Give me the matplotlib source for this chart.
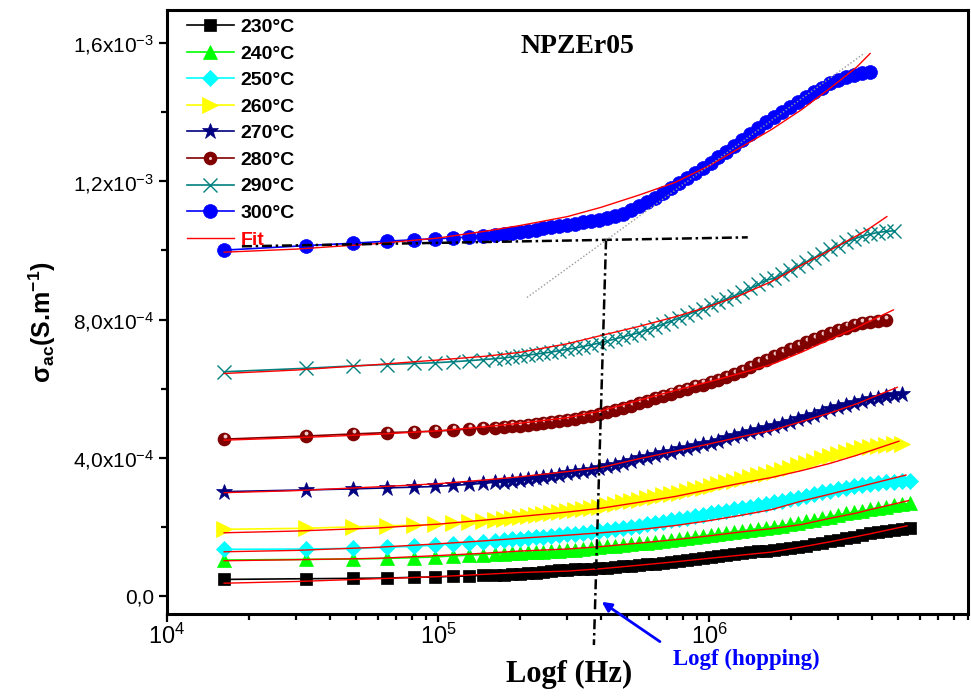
import numpy as np
import matplotlib
matplotlib.use("Agg")
import matplotlib.pyplot as plt
from matplotlib.lines import Line2D
from matplotlib.ticker import FixedLocator, LogLocator, MultipleLocator, NullFormatter
from matplotlib.legend_handler import HandlerTuple
from matplotlib.transforms import offset_copy

plt.rcParams["mathtext.default"] = "regular"
plt.rcParams["font.family"] = ["Liberation Sans", "DejaVu Sans"]

# measured frequencies (kHz)
freq_khz = [16.25, 32.5, 48.75, 65, 81.25, 97.5, 113.75, 130, 146.25, 162.5,
            175, 187, 200, 214, 229, 245, 262, 280, 300, 321,
            343, 367, 393, 421, 450, 482, 515, 551, 590, 631,
            675, 722, 773, 827, 885, 947, 1013, 1084, 1160, 1241,
            1328, 1421, 1520, 1627, 1741, 1862, 1993, 2132, 2281, 2441,
            2612, 2795, 2990, 3200, 3424, 3663, 3920, 4194, 4488, 4802,
            5138, 5498]

# sigma_ac in 1e-4 S/m
s230 = [0.48, 0.50, 0.51, 0.52, 0.54, 0.55, 0.57, 0.58, 0.60, 0.61,
        0.62, 0.63, 0.64, 0.66, 0.68, 0.70, 0.72, 0.74, 0.75, 0.77,
        0.78, 0.79, 0.80, 0.82, 0.84, 0.86, 0.88, 0.90, 0.92, 0.94,
        0.96, 0.98, 1.00, 1.03, 1.06, 1.09, 1.12, 1.15, 1.18, 1.21,
        1.24, 1.27, 1.29, 1.31, 1.33, 1.35, 1.38, 1.42, 1.46, 1.50,
        1.54, 1.58, 1.63, 1.67, 1.72, 1.77, 1.82, 1.86, 1.89, 1.92,
        1.94, 1.96]
s240 = [1.04, 1.06, 1.07, 1.09, 1.11, 1.13, 1.16, 1.18, 1.20, 1.22,
        1.23, 1.24, 1.25, 1.26, 1.27, 1.28, 1.29, 1.30, 1.32, 1.34,
        1.36, 1.39, 1.42, 1.44, 1.46, 1.48, 1.50, 1.52, 1.54, 1.57,
        1.60, 1.62, 1.65, 1.68, 1.71, 1.74, 1.77, 1.80, 1.83, 1.86,
        1.89, 1.92, 1.95, 1.98, 2.01, 2.04, 2.08, 2.12, 2.16, 2.20,
        2.25, 2.30, 2.35, 2.39, 2.43, 2.47, 2.51, 2.55, 2.59, 2.62,
        2.65, 2.68]
s250 = [1.35, 1.36, 1.38, 1.41, 1.44, 1.47, 1.51, 1.54, 1.57, 1.60,
        1.62, 1.64, 1.66, 1.68, 1.70, 1.72, 1.74, 1.76, 1.78, 1.80,
        1.83, 1.86, 1.89, 1.92, 1.95, 1.98, 2.01, 2.04, 2.07, 2.11,
        2.15, 2.19, 2.23, 2.27, 2.31, 2.35, 2.39, 2.43, 2.47, 2.51,
        2.55, 2.59, 2.63, 2.67, 2.71, 2.75, 2.80, 2.85, 2.90, 2.95,
        3.00, 3.05, 3.10, 3.14, 3.18, 3.22, 3.25, 3.27, 3.29, 3.31,
        3.32, 3.33]
s260 = [1.93, 1.96, 2.00, 2.03, 2.05, 2.07, 2.10, 2.13, 2.17, 2.20,
        2.23, 2.26, 2.29, 2.32, 2.35, 2.38, 2.41, 2.44, 2.47, 2.50,
        2.53, 2.56, 2.59, 2.63, 2.67, 2.71, 2.75, 2.79, 2.83, 2.87,
        2.91, 2.95, 2.99, 3.04, 3.09, 3.14, 3.19, 3.24, 3.29, 3.34,
        3.39, 3.44, 3.49, 3.54, 3.59, 3.65, 3.71, 3.78, 3.85, 3.92,
        3.99, 4.05, 4.11, 4.17, 4.22, 4.27, 4.31, 4.34, 4.37, 4.39,
        4.40]
s270 = [3.02, 3.07, 3.10, 3.13, 3.15, 3.17, 3.20, 3.23, 3.26, 3.29,
        3.31, 3.34, 3.37, 3.39, 3.42, 3.45, 3.48, 3.51, 3.55, 3.59,
        3.62, 3.66, 3.70, 3.75, 3.80, 3.86, 3.92, 3.98, 4.03, 4.08,
        4.13, 4.18, 4.24, 4.29, 4.34, 4.39, 4.44, 4.50, 4.56, 4.62,
        4.68, 4.74, 4.80, 4.86, 4.91, 4.97, 5.04, 5.11, 5.18, 5.25,
        5.33, 5.40, 5.47, 5.53, 5.59, 5.64, 5.69, 5.74, 5.78, 5.81,
        5.84]
s280 = [4.54, 4.63, 4.69, 4.73, 4.75, 4.77, 4.80, 4.83, 4.85, 4.87,
        4.89, 4.91, 4.93, 4.95, 4.97, 5.00, 5.03, 5.06, 5.09, 5.13,
        5.17, 5.21, 5.26, 5.32, 5.38, 5.44, 5.51, 5.58, 5.65, 5.72,
        5.79, 5.86, 5.93, 6.00, 6.07, 6.12, 6.18, 6.25, 6.33, 6.42,
        6.52, 6.62, 6.73, 6.84, 6.94, 7.04, 7.14, 7.24, 7.34, 7.44,
        7.53, 7.62, 7.70, 7.77, 7.84, 7.89, 7.93, 7.96, 7.98]
s290 = [6.49, 6.59, 6.66, 6.70, 6.73, 6.75, 6.78, 6.81, 6.84, 6.87,
        6.89, 6.92, 6.94, 6.97, 7.00, 7.03, 7.06, 7.10, 7.14, 7.18,
        7.22, 7.27, 7.32, 7.38, 7.44, 7.50, 7.56, 7.62, 7.70, 7.78,
        7.86, 7.95, 8.04, 8.13, 8.22, 8.31, 8.41, 8.50, 8.60, 8.69,
        8.79, 8.90, 9.02, 9.14, 9.20, 9.31, 9.43, 9.55, 9.67, 9.79,
        9.91, 10.03, 10.14, 10.24, 10.33, 10.41, 10.47, 10.52, 10.55, 10.57]
s300 = [10.01, 10.14, 10.21, 10.27, 10.31, 10.34, 10.36, 10.39, 10.42, 10.45,
        10.47, 10.50, 10.53, 10.56, 10.60, 10.64, 10.68, 10.71, 10.74, 10.78,
        10.81, 10.85, 10.88, 10.94, 11.00, 11.07, 11.17, 11.28, 11.40, 11.53,
        11.67, 11.81, 11.95, 12.09, 12.23, 12.38, 12.54, 12.70, 12.86, 13.03,
        13.20, 13.37, 13.54, 13.71, 13.85, 14.00, 14.15, 14.31, 14.45, 14.58,
        14.71, 14.84, 14.94, 15.03, 15.09, 15.13, 15.17]

# fitted curves (same units), last point at each fit's own end frequency
fit_khz = [16.25, 30, 60, 100, 150, 200, 300, 400, 550, 750,
           1000, 1300, 1700, 2200, 2800, 3500, 3930]
fit_end_khz = [5380, 5450, 5330, 5020, 4950, 4790, 4530, 3930]
fit230 = [0.37, 0.42, 0.50, 0.56, 0.63, 0.68, 0.72, 0.79, 0.89, 0.99,
          1.09, 1.18, 1.27, 1.42, 1.57, 1.72, 1.80, 2.03]
fit240 = [1.02, 1.05, 1.09, 1.17, 1.24, 1.30, 1.36, 1.43, 1.53, 1.63,
          1.74, 1.85, 1.95, 2.07, 2.25, 2.40, 2.50, 2.76]
fit250 = [1.28, 1.32, 1.41, 1.51, 1.60, 1.67, 1.76, 1.83, 1.92, 2.04,
          2.18, 2.33, 2.50, 2.75, 2.95, 3.14, 3.24, 3.50]
fit260 = [1.83, 1.88, 1.97, 2.08, 2.20, 2.30, 2.43, 2.54, 2.71, 2.88,
          3.08, 3.26, 3.43, 3.63, 3.84, 4.07, 4.20, 4.48]
fit270 = [2.99, 3.05, 3.16, 3.25, 3.36, 3.45, 3.60, 3.72, 3.97, 4.19,
          4.40, 4.60, 4.79, 5.05, 5.30, 5.56, 5.72, 6.04]
fit280 = [4.51, 4.58, 4.68, 4.78, 4.90, 5.00, 5.16, 5.36, 5.66, 5.95,
          6.20, 6.44, 6.70, 7.06, 7.43, 7.76, 7.96, 8.28]
fit290 = [6.44, 6.54, 6.70, 6.83, 6.94, 7.05, 7.30, 7.54, 7.80, 8.08,
          8.38, 8.70, 9.10, 9.58, 10.01, 10.42, 10.65, 10.98]
fit300 = [9.95, 10.04, 10.20, 10.36, 10.56, 10.72, 10.98, 11.25, 11.60, 11.97,
          12.45, 12.97, 13.50, 14.08, 14.70, 15.30, 15.70]

# guide lines used to locate the hopping frequency
plateau_f = [1.89e4, 1.39e6]
plateau_s = [10.12e-4, 10.38e-4]
slope_f = [2.13e5, 3.70e6]
slope_s = [8.64e-4, 15.68e-4]
hop_f = [4.17e5, 3.76e5]
hop_s = [10.32e-4, -1.42e-4]

labels = ["230°C", "240°C", "250°C", "260°C", "270°C", "280°C", "290°C", "300°C"]
colors = ["black", "#00ff00", "#00ffff", "#ffff00", "#000080", "#800000", "#008080", "#0000ff"]
markers = ["s", "^", "D", ">", "*", "o", "x", "o"]
msizes = [8.5, 10.5, 7.8, 11, 12, 9.8, 9.8, 10]

data = [s230, s240, s250, s260, s270, s280, s290, s300]
fits = [fit230, fit240, fit250, fit260, fit270, fit280, fit290, fit300]

fig = plt.figure(figsize=(9.71, 6.99), dpi=100)
ax = fig.add_axes([0.172, 0.1216, 0.8249, 0.8641])
ax.set_xscale("log")

hl_tr = offset_copy(ax.transData, fig=fig, x=0.5, y=2.2, units="points")
handles = []
for k, vals in enumerate(data):
    f = np.array(freq_khz[:len(vals)]) * 1e3
    s = np.array(vals) * 1e-4
    col = colors[k]
    z = 3 + k * 0.1
    mew = 1.0 if markers[k] == "x" else 0.5
    if k == 5:
        # shaded spheres: each marker gets its own highlight, drawn in order
        ax.plot(f, s, "-", color=col, lw=1.2, zorder=z - 0.01)
        for i in range(len(f)):
            zi = z + i * 1e-4
            ax.plot(f[i], s[i], "o", ms=msizes[k], color=col, mew=0, zorder=zi)
            ax.plot(f[i], s[i], "o", ms=2.8, color="#f2caca", mew=0,
                    transform=hl_tr, zorder=zi + 5e-5)
        h = (Line2D([], [], color=col, lw=1.2, marker="o", ms=msizes[k], mew=0),
             Line2D([], [], ls="none", marker="o", ms=2.2, color="#f2caca", mew=0))
        handles.append(h)
    else:
        ln, = ax.plot(f, s, color=col, lw=1.2, marker=markers[k], ms=msizes[k],
                      mfc=col, mec=col, mew=mew, zorder=z)
        handles.append(ln)

for k, fv in enumerate(fits):
    ff = np.array(fit_khz[:len(fv) - 1] + [fit_end_khz[k]]) * 1e3
    fit_line, = ax.plot(ff, np.array(fv) * 1e-4, color="red", lw=1.0, zorder=5)

ax.plot(plateau_f, plateau_s, color="black", lw=1.8, dashes=(4, 1.5, 1, 1.5), zorder=6)
ax.plot(hop_f, hop_s, color="black", lw=1.8, dashes=(4, 1.5, 1, 1.5), zorder=6, clip_on=False)
ax.plot(slope_f, slope_s, color="#999999", lw=1.0, ls=(0, (1, 1.5)), zorder=6)

ax.annotate("", xy=(4.02e5, -0.17e-4), xytext=(6.59e5, -1.32e-4),
            arrowprops=dict(arrowstyle="-|>", color="blue", lw=2, mutation_scale=14,
                            shrinkA=0, shrinkB=0),
            annotation_clip=False)
ax.text(1.37e6, -1.84e-4, "Logf (hopping)", color="blue", family="Liberation Serif",
        weight="bold", size=16.5, ha="center", va="center", clip_on=False)

ax.text(0.513, 0.939, "NPZEr05", transform=ax.transAxes, family="Liberation Serif",
        weight="bold", size=20, ha="center", va="center")

ax.set_xlim(1e4, 9.03e6)
ax.set_ylim(-0.521e-4, 16.96e-4)

ax.set_xticks([1e4, 1e5, 1e6], ["10$^4$", "10$^5$", "10$^6$"])
ax.xaxis.set_minor_locator(LogLocator(base=10, subs=np.arange(2, 10)))
ax.xaxis.set_minor_formatter(NullFormatter())
for lbl in ax.get_xticklabels():
    lbl.set_fontfamily(["Liberation Sans Narrow", "Liberation Sans"])
    lbl.set_fontsize(17)

ax.yaxis.set_major_locator(FixedLocator([0, 4e-4, 8e-4, 1.2e-3, 1.6e-3]))
ax.set_yticklabels(["0,0", "4,0x10$^{-4}$", "8,0x10$^{-4}$", "1,2x10$^{-3}$", "1,6x10$^{-3}$"],
                   fontsize=15)
ax.yaxis.set_minor_locator(MultipleLocator(2e-4))

ax.tick_params(which="major", direction="out", length=6, width=1.6, top=False, right=False)
ax.tick_params(which="minor", direction="out", length=4, width=1.6, top=False, right=False)
ax.tick_params(axis="x", which="major", pad=1)
for sp in ax.spines.values():
    sp.set_linewidth(2.2)

ax.set_xlabel("Logf (Hz)", family="Liberation Serif", weight="bold", size=22)
ax.xaxis.set_label_coords(0.502, -0.076)
ax.set_ylabel("$\\sigma_{ac}$(S.m$^{-1}$)", weight="bold", size=18)
ax.yaxis.set_label_coords(-0.136, 0.483)

leg = ax.legend(handles=handles + [fit_line], labels=labels + ["Fit"],
                loc="upper left", bbox_to_anchor=(0.025, 0.986), frameon=False,
                prop=dict(family="Liberation Sans", weight="bold", size=14),
                handlelength=2.4, handletextpad=0.35, labelspacing=0.46,
                borderpad=0, borderaxespad=0,
                handler_map={tuple: HandlerTuple(ndivide=1)})
leg.get_texts()[-1].set_color("red")
leg.set_zorder(10)

fig.savefig("out.png", dpi=100)
